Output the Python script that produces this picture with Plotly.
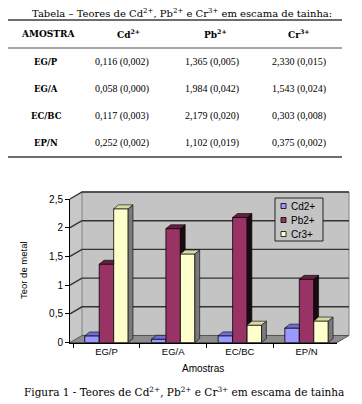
import plotly.graph_objects as go

# ---------------- data ----------------
samples = ["EG/P", "EG/A", "EC/BC", "EP/N"]
series_names = ["Cd2+", "Pb2+", "Cr3+"]
cd_values = [0.116, 0.058, 0.117, 0.252]
pb_values = [1.365, 1.984, 2.179, 1.102]
cr_values = [2.330, 1.543, 0.303, 0.375]
cd_sd = [0.002, 0.000, 0.003, 0.002]
pb_sd = [0.005, 0.042, 0.020, 0.019]
cr_sd = [0.015, 0.024, 0.008, 0.002]
y_ticks = [0, 0.5, 1, 1.5, 2, 2.5]

# ---------------- styling ----------------
OFF = 8  # page body margin
W, H = 362 - OFF, 404 - OFF
front = ["#9999FF", "#993366", "#FFFFCC"]
top_c = ["#6E6ED0", "#66203F", "#D8D8A8"]
side_c = ["#3A3A8C", "#1A0A12", "#7A7A7A"]
SERIF = "DejaVu Serif"
SERIF2 = "Liberation Serif"
SANS = "Liberation Sans"


def X(px):
    return (px - OFF) / W


def Y(py):
    return 1 - (py - OFF) / H


# plot (front plane) geometry in window pixels
PX0, PX1 = 70, 337
PY0, PY1 = 342.5, 199
XR = [-0.547, 3.456]
YR = [0, 2.5]
DX_W, DY_W = 12, 7  # wall depth offset in px

fig = go.Figure()

series = [cd_values, pb_values, cr_values]
bw = 0.217
offsets = [-0.326, -0.109, 0.108]
for i, (name, vals) in enumerate(zip(series_names, series)):
    fig.add_trace(go.Bar(
        x=samples, y=vals, name=name, width=bw, offset=offsets[i],
        marker=dict(color=front[i], line=dict(color="#000000", width=0.8)),
        showlegend=False, hoverinfo="x+y+name"))

shapes = []


def poly(pts, fill, line_color=None, lw=0, layer="below"):
    path = "M " + " L ".join(f"{X(a):.5f},{Y(b):.5f}" for a, b in pts) + " Z"
    return dict(type="path", xref="paper", yref="paper", path=path,
                fillcolor=fill, line=dict(color=line_color or fill, width=lw),
                layer=layer)


# side wall
shapes.append(poly([(PX0, PY1), (PX0 + DX_W, PY1 - DY_W), (PX0 + DX_W, PY0 - DY_W), (PX0, PY0)], "#C8C8C8"))
# back wall
shapes.append(poly([(PX0 + DX_W, PY1 - DY_W), (PX1 + DX_W, PY1 - DY_W), (PX1 + DX_W, PY0 - DY_W), (PX0 + DX_W, PY0 - DY_W)],
                   "#C4C4C4", "#808080", 1))
# floor
shapes.append(poly([(PX0, PY0), (PX0 + DX_W, PY0 - DY_W), (PX1 + DX_W, PY0 - DY_W), (PX1, PY0)], "#8E8E8E", "#555555", 1))

ppu = (PY0 - PY1) / (YR[1] - YR[0])
for v in y_ticks[1:]:
    yf = PY0 - v * ppu
    path = f"M {X(PX0):.5f},{Y(yf):.5f} L {X(PX0 + DX_W):.5f},{Y(yf - DY_W):.5f} L {X(PX1 + DX_W):.5f},{Y(yf - DY_W):.5f}"
    shapes.append(dict(type="path", xref="paper", yref="paper", path=path,
                       line=dict(color="#333333", width=1.4), layer="below"))

# ---- 3D faces of bars (data coords, computed from the data)
dx, dy = 0.072, 0.068
for c in range(len(samples)):
    vals = [s[c] for s in series]
    for i, v in enumerate(vals):
        x0 = c + offsets[i]
        x1 = x0 + bw
        vn = vals[i + 1] if i + 1 < len(vals) else 0.0
        if v > vn:
            p = f"M {x1},{vn} L {x1 + dx},{vn + dy} L {x1 + dx},{v + dy} L {x1},{v} Z"
            shapes.append(dict(type="path", xref="x", yref="y", path=p,
                               fillcolor=side_c[i], line=dict(color="#000000", width=0.6), layer="above"))
    for i, v in enumerate(vals):
        x0 = c + offsets[i]
        x1 = x0 + bw
        vn = vals[i + 1] if i + 1 < len(vals) else 0.0
        if v >= vn:
            p = f"M {x0},{v} L {x1},{v} L {x1 + dx},{v + dy} L {x0 + dx},{v + dy} Z"
        else:
            p = f"M {x0},{v} L {x1},{v} L {x1},{v + dy} L {x0 + dx},{v + dy} Z"
        shapes.append(dict(type="path", xref="x", yref="y", path=p,
                           fillcolor=top_c[i], line=dict(color="#000000", width=0.6), layer="above"))

annotations = []


def text(t, px, py, size, family, anchor="center", angle=0):
    annotations.append(dict(text=t, x=X(px), y=Y(py), xref="paper", yref="paper", xanchor=anchor,
                            yanchor="middle", showarrow=False, textangle=angle,
                            font=dict(family=family, size=size, color="#000000")))


# ---- legend box (custom, small squares like the original)
shapes.append(dict(type="rect", xref="paper", yref="paper", x0=X(275), x1=X(323), y0=Y(241), y1=Y(198),
                   fillcolor="#C4C4C4", line=dict(color="#222222", width=1), layer="above"))
leg_rows = [206, 220, 234]
for i, name in enumerate(series_names):
    yy = leg_rows[i]
    shapes.append(dict(type="rect", xref="paper", yref="paper", x0=X(281), x1=X(286), y0=Y(yy + 2.5), y1=Y(yy - 2.5),
                       fillcolor=front[i], line=dict(color="#000000", width=0.8), layer="above"))
    text(name, 289, yy, 10, SANS, anchor="left")

# ---- table
for yy, col, wd in [(20, "#6E6E6E", 2), (48, "#8A8A8A", 1.5), (157, "#6E6E6E", 2)]:
    shapes.append(dict(type="line", xref="paper", yref="paper", x0=X(8), x1=X(342), y0=Y(yy), y1=Y(yy),
                       line=dict(color=col, width=wd)))

text("Tabela – Teores de Cd<sup>2+</sup>, Pb<sup>2+</sup> e Cr<sup>3+</sup> em escama de tainha:", 182, 13, 10, SERIF)
col_x = [46, 122, 212, 299]
hdr_x = [48, 128, 215, 299]
headers = ["<b>AMOSTRA</b>", "<b>Cd</b><sup><b>2+</b></sup>", "<b>Pb</b><sup><b>2+</b></sup>", "<b>Cr</b><sup><b>3+</b></sup>"]
for hx, h in zip(hdr_x, headers):
    text(h, hx, 34, 9, SERIF)
row_y = [62, 89, 116, 143]


def fmt(v, s):
    return f"{v:.3f}".replace(".", ",") + " (" + f"{s:.3f}".replace(".", ",") + ")"


for r, smp in enumerate(samples):
    text(f"<b>{smp}</b>", col_x[0], row_y[r], 8.5, SERIF)
    for k, (vals, sds) in enumerate([(cd_values, cd_sd), (pb_values, pb_sd), (cr_values, cr_sd)]):
        text(fmt(vals[r], sds[r]), col_x[k + 1], row_y[r], 10, SERIF2)

# ---- axis titles and caption
text("Teor de metal", 23, 270, 9.5, SANS, angle=-90)
text("Amostras", 203, 368, 10, SANS)
text("Figura 1 - Teores de Cd<sup>2+</sup>, Pb<sup>2+</sup> e Cr<sup>3+</sup> em escama de tainha", 184, 391, 10.5, SERIF)

fig.update_layout(
    width=W, height=H, margin=dict(l=0, r=0, t=0, b=0),
    paper_bgcolor="#FFFFFF", plot_bgcolor="rgba(0,0,0,0)",
    barmode="overlay", separators=",.", showlegend=False,
    shapes=shapes, annotations=annotations,
    xaxis=dict(domain=[X(PX0), X(PX1)], range=XR, type="category", categoryorder="array",
               categoryarray=samples, tickson="boundaries", ticks="outside", ticklen=4,
               tickcolor="#000000", showline=True, linecolor="#000000", linewidth=1,
               showgrid=False, zeroline=False, automargin=False,
               tickfont=dict(family=SANS, size=9.5, color="#000000")),
    yaxis=dict(domain=[Y(PY0), Y(PY1)], range=YR, tickvals=y_ticks, ticks="outside", ticklen=4,
               tickcolor="#000000", showline=True, linecolor="#000000", linewidth=1,
               showgrid=False, zeroline=False, automargin=False,
               tickfont=dict(family=SANS, size=10, color="#000000")),
)

fig.write_html("out.html")
